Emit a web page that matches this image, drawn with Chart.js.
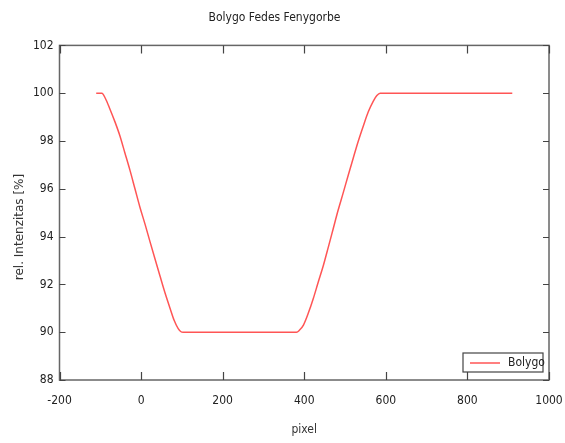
<!DOCTYPE html>
<html>
<head>
<meta charset="utf-8">
<script src="https://cdn.jsdelivr.net/npm/chart.js@4"></script>
<style>
  html, body { margin: 0; padding: 0; background: #fff; }
  #wrap { width: 565px; height: 443px; }
</style>
</head>
<body>
<div id="wrap"><canvas id="chart" width="565" height="443"></canvas></div>
<script>
// light curve
const pixelValues = [-110, -96, -88, -76, -64, -52, -40, -27, -15, -3, 10, 22, 34, 46, 58, 71, 81, 91, 97, 103,
                     381, 388, 398, 410, 422, 434, 447, 459, 471, 483, 496, 508, 520, 532, 545, 557, 569, 578, 586, 910];
const intensityValues = [100, 100, 99.8, 99.32, 98.8, 98.22, 97.52, 96.76, 96.0, 95.24, 94.5, 93.78, 93.07, 92.37, 91.68, 91.0, 90.5, 90.15, 90.03, 90,
                         90, 90.08, 90.3, 90.8, 91.4, 92.08, 92.8, 93.56, 94.33, 95.1, 95.86, 96.58, 97.28, 97.97, 98.64, 99.22, 99.66, 99.9, 100, 100];
const xTicks = [-200, 0, 200, 400, 600, 800, 1000];
const yTicks = [88, 90, 92, 94, 96, 98, 100, 102];
const yTitle = 'rel. Intenzitas [%]';

const FONT = "'Liberation Sans Narrow', 'DejaVu Sans Condensed', sans-serif";
const FRAME = '#666';

// frame box + inward ticks (gnuplot look), y title, legend
const framePlugin = {
    id: 'frame',
    afterDatasetsDraw(chart) {
        const ctx = chart.ctx, a = chart.chartArea;
        const xs = chart.scales.x, ys = chart.scales.y;
        ctx.save();
        ctx.strokeStyle = FRAME;
        ctx.lineWidth = 1.5;
        ctx.strokeRect(a.left, a.top, a.right - a.left, a.bottom - a.top);
        ctx.lineWidth = 1.2;
        ctx.strokeStyle = '#444';
        ctx.beginPath();
        xs.ticks.forEach(t => {
            const px = Math.round(xs.getPixelForValue(t.value)) + 0.5;
            ctx.moveTo(px, a.bottom); ctx.lineTo(px, a.bottom - 8);
            ctx.moveTo(px, a.top); ctx.lineTo(px, a.top + 8);
        });
        ys.ticks.forEach(t => {
            const py = Math.round(ys.getPixelForValue(t.value)) + 0.5;
            ctx.moveTo(a.left, py); ctx.lineTo(a.left + 6, py);
            ctx.moveTo(a.right, py); ctx.lineTo(a.right - 6, py);
        });
        ctx.stroke();

        // y axis title, sits a bit below the middle like the original
        ctx.save();
        ctx.translate(20, 227);
        ctx.rotate(-Math.PI / 2);
        ctx.fillStyle = '#333';
        ctx.font = "12px 'DejaVu Sans', sans-serif";
        ctx.textAlign = 'center';
        ctx.textBaseline = 'middle';
        ctx.fillText(yTitle, 0, 0);
        ctx.restore();

        // legend box bottom right inside plot
        const ds = chart.data.datasets[0];
        const bx = a.right - 86, by = a.bottom - 27, bw = 80, bh = 19;
        ctx.fillStyle = '#fff';
        ctx.fillRect(bx, by, bw, bh);
        ctx.strokeStyle = '#444';
        ctx.lineWidth = 1.2;
        ctx.strokeRect(bx, by, bw, bh);
        ctx.strokeStyle = ds.borderColor;
        ctx.lineWidth = 1.5;
        ctx.beginPath();
        ctx.moveTo(bx + 7, by + 10); ctx.lineTo(bx + 37, by + 10);
        ctx.stroke();
        ctx.fillStyle = '#222';
        ctx.font = '12px ' + FONT;
        ctx.textBaseline = 'middle';
        ctx.fillText(ds.label, bx + 45, by + 10);
        ctx.restore();
    }
};

new Chart(document.getElementById('chart'), {
    type: 'line',
    data: {
        datasets: [{
            label: 'Bolygo',
            data: pixelValues.map((x, i) => ({ x: x, y: intensityValues[i] })),
            borderColor: '#ff5555',
            borderWidth: 1.5,
            pointRadius: 0,
            fill: false,
            cubicInterpolationMode: 'monotone'
        }]
    },
    options: {
        responsive: false,
        animation: false,
        layout: { padding: { left: 0, right: 16, top: 0, bottom: 0 } },
        plugins: {
            legend: { display: false },
            tooltip: { enabled: false },
            title: {
                display: true,
                text: 'Bolygo Fedes Fenygorbe',
                color: '#222',
                font: { family: FONT, size: 12, weight: 'normal' },
                padding: { top: 11, bottom: 20 }
            }
        },
        scales: {
            x: {
                type: 'linear',
                min: -200, max: 1000,
                afterBuildTicks: s => { s.ticks = xTicks.map(v => ({ value: v })); },
                afterFit: s => { s.height = 63; s.paddingLeft = 0; s.paddingRight = 0; },
                grid: { display: false, drawTicks: false },
                border: { display: false },
                ticks: { color: '#222', padding: 14, maxRotation: 0, font: { family: FONT, size: 12 },
                         callback: v => String(v) },
                title: {
                    display: true, text: 'pixel', color: '#333',
                    font: { family: FONT, size: 12 },
                    padding: { top: 0, bottom: 6 }
                }
            },
            y: {
                min: 88, max: 102,
                afterBuildTicks: s => { s.ticks = yTicks.map(v => ({ value: v })); },
                afterFit: s => { s.width = 59.5; s.paddingTop = 0; s.paddingBottom = 0; },
                grid: { display: false, drawTicks: false },
                border: { display: false },
                ticks: { color: '#222', padding: 6, font: { family: FONT, size: 12 },
                         callback: v => String(v) },
                title: { display: false }
            }
        }
    },
    plugins: [framePlugin]
});
</script>
</body>
</html>
